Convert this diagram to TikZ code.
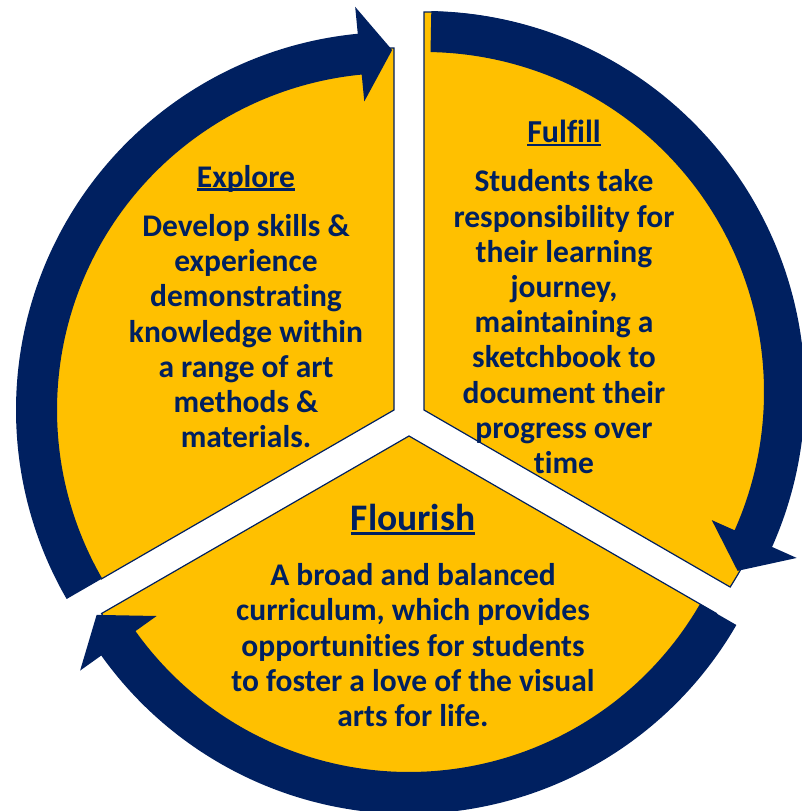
\documentclass[tikz,border=0pt]{standalone}
\usepackage{fontspec}
\setmainfont{Carlito}[Ligatures=NoCommon]
\usetikzlibrary{positioning,calc}
\definecolor{navy}{RGB}{0,32,96}
\definecolor{gold}{RGB}{255,192,0}
% underline that sits just under the baseline, as in the slide
\newcommand{\headline}[1]{\setbox0\hbox{#1}\rlap{\rule[-0.11em]{\wd0}{0.07em}}\box0}

\begin{document}
\begin{tikzpicture}[x=1pt,y=1pt,% one unit is one pixel of the slide
			every node/.style={
				align=center,		% so that "\\" breaks the lines
				text=navy,
				font=\bfseries\fontsize{31.5}{35.2}\selectfont
			},
			sector/.style={fill=gold,draw=navy,line width=1.2pt},
			ring/.style={fill=navy}
		]
		\useasboundingbox (0,0) rectangle (802,811);
		% corners of the three pieces
		\coordinate (OL) at (394,401);
		\coordinate (OR) at (424,401);
		\coordinate (OB) at (409,375);
		\coordinate (CR) at (424,419); % centre of the right hand arrow
		% yellow pieces
		\draw[sector] (OL) -- ($(OL)+(210:338)$) to[out=120,in=180,looseness=1.14] ($(OL)+(90:362)$) -- cycle;
		\draw[sector] (OR) -- ($(CR)+(-32.5:363)$) to[out=57.5,in=0,looseness=1.15] ($(CR)+(90:380)$) -- cycle;
		\draw[sector] (OB) -- ($(OB)+(-30:355)$) arc[start angle=-30,end angle=-150,radius=355] -- cycle;
		% round arrows
		\fill[ring] ($(OL)+(210:378)$) arc[start angle=210,end angle=95.5,radius=378]
			-- ($(OL)+(95.5:405)$) -- ($(OL)+(90.3:360)$) -- ($(OL)+(95.5:310)$)
			-- ($(OL)+(95.5:337)$) arc[start angle=95.5,end angle=210,radius=337] -- cycle;
		\fill[ring] ($(CR)+(88.9:381)$) arc[start angle=88.9,end angle=-24,radius=381]
			-- ($(CR)+(-24:408)$) -- ($(CR)+(-29.7:361)$) -- ($(CR)+(-24:315)$)
			-- ($(CR)+(-24:340)$) arc[start angle=-24,end angle=88.9,radius=340] -- cycle;
		\fill[ring] ($(OB)+(-30:378)$) arc[start angle=-30,end angle=-144.5,radius=378]
			-- ($(OB)+(-144.5:404)$) -- ($(OB)+(-150.2:360)$) -- ($(OB)+(-144.5:310)$)
			-- ($(OB)+(-144.5:336)$) arc[start angle=-144.5,end angle=-30,radius=336] -- cycle;
		% texts
		\node (explore) at (246,504.5) {{\fontsize{31.5}{31.5}\selectfont\headline{Explore}}\\[14pt]
			Develop skills \&\\ experience\\ demonstrating\\ knowledge within\\ a range of art\\ methods \&\\ materials.};
		\node (fulfill) at (564,514) {{\fontsize{32}{32}\selectfont\headline{Fulfill}}\\[14pt]
			Students take\\ responsibility for\\ their learning\\ journey,\\ maintaining a\\ sketchbook to\\ document their\\ progress over\\ time};
		\node (flourish) at (413,195.5) {{\fontsize{37.5}{37.5}\selectfont\headline{Flourish}}\\[20pt]
			A broad and balanced\\ curriculum, which provides\\ opportunities for students\\ to foster a love of the visual\\ arts for life.};
	\end{tikzpicture}
\end{document}
